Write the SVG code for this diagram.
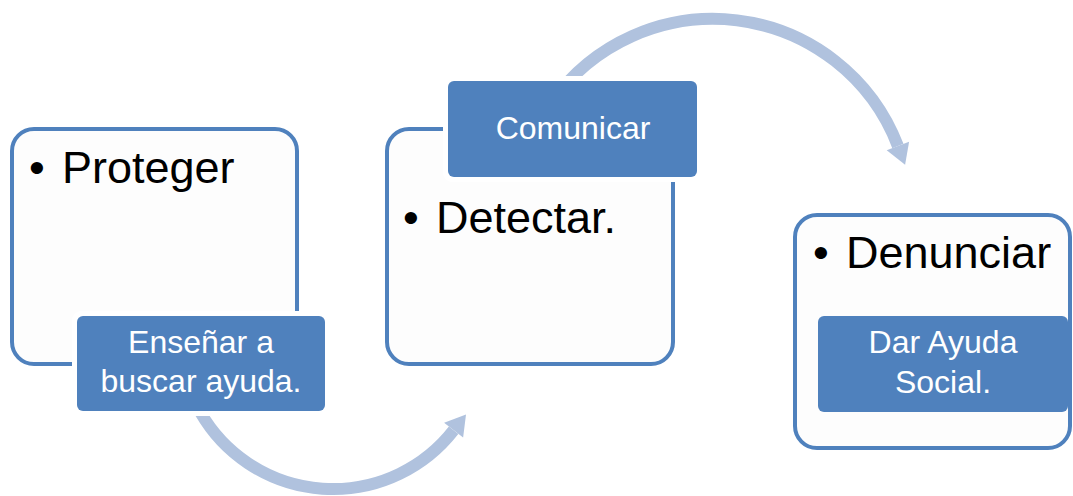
<svg xmlns="http://www.w3.org/2000/svg" width="1073" height="496" viewBox="0 0 1073 496">
<style>
.box{fill:#fdfdfd;stroke:#4f81bd;stroke-width:4}
.halo{fill:#ffffff}
.lab{fill:#4f81bd}
.main{font-family:"Liberation Sans",Arial,sans-serif;font-size:45px;fill:#000}
.lt{font-family:"Liberation Sans",Arial,sans-serif;font-size:32px;fill:#fff;text-anchor:middle}
.arc{fill:none;stroke:#b0c2de;stroke-width:12}
.head{fill:#b0c2de}
</style>
<rect width="1073" height="496" fill="#fff"/>
<g id="connectors">
<path class="arc" d="M200.5 412.5 A153 153 0 0 0 453.6 430.2"/>
<polygon class="head" points="466,414.4 463.1,437.6 444.1,422.8"/>
<path class="arc" d="M550.8 103.4 A198 198 0 0 1 897.9 146"/>
<polygon class="head" points="905.1,164.7 909.1,141.7 886.7,150.3"/>
</g>
<g id="node-proteger">
<rect class="box" x="12" y="129" width="285" height="235" rx="22"/>
<text class="main" y="183"><tspan x="29">•</tspan><tspan x="62">Proteger</tspan></text>
</g>
<g id="node-detectar">
<rect class="box" x="387" y="129" width="286" height="235" rx="22"/>
<text class="main" y="233"><tspan x="403">•</tspan><tspan x="436">Detectar.</tspan></text>
</g>
<g id="node-denunciar">
<rect class="box" x="795" y="215" width="275" height="233" rx="22"/>
<text class="main" y="268"><tspan x="813">•</tspan><tspan x="846">Denunciar</tspan></text>
</g>
<g id="label-ensenar">
<rect class="halo" x="72" y="311" width="258" height="105" rx="9"/>
<rect class="lab" x="77" y="316" width="248" height="95" rx="6"/>
<text class="lt" x="201" y="353">Enseñar a</text>
<text class="lt" x="201" y="392">buscar ayuda.</text>
</g>
<g id="label-comunicar">
<rect class="halo" x="443" y="76" width="259" height="106" rx="9"/>
<rect class="lab" x="448" y="81" width="249" height="96" rx="6"/>
<text class="lt" x="573" y="139">Comunicar</text>
</g>
<g id="label-dar-ayuda">
<rect class="lab" x="818" y="316" width="250" height="96" rx="6"/>
<text class="lt" x="943" y="353">Dar Ayuda</text>
<text class="lt" x="943" y="393">Social.</text>
</g>
</svg>
